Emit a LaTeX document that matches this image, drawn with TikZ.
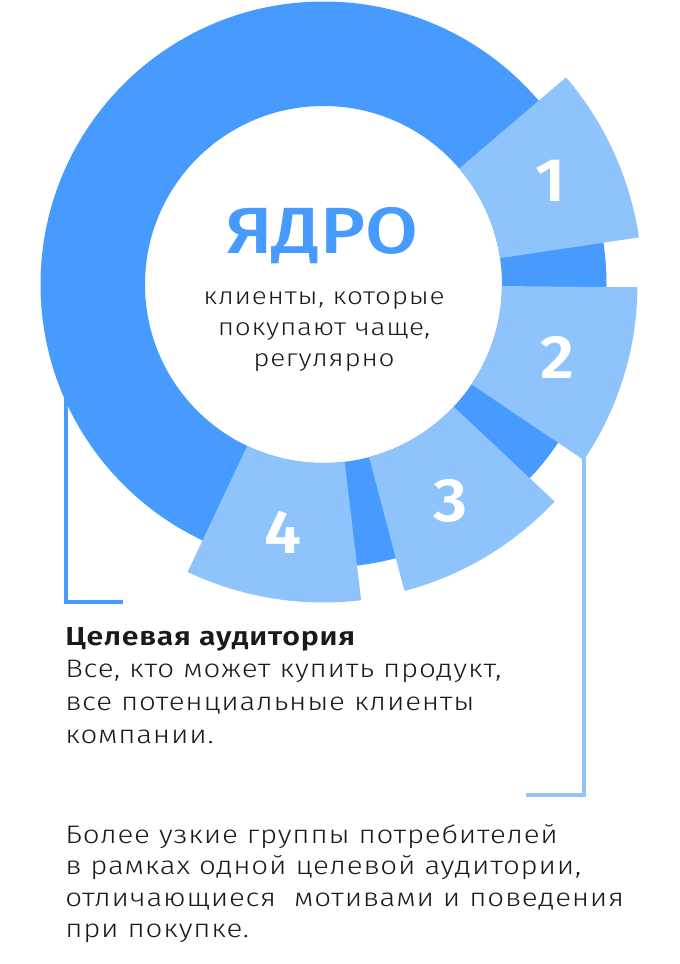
\documentclass[tikz,border=0pt]{standalone}
\usepackage{fontspec}
\setmainfont{Fira Sans Light}[BoldFont={Fira Sans SemiBold}, FakeStretch=1.165, LetterSpace=3]
\newfontfamily\semib{Fira Sans SemiBold}[FakeStretch=1.08]
\newfontfamily\medium{Fira Sans Medium}[FakeStretch=1.17]
\definecolor{dblue}{HTML}{479BFF}
\definecolor{lblue}{HTML}{8FC3FC}
\definecolor{txt}{HTML}{1A1A1A}
\begin{document}
\begin{tikzpicture}[x=0.75pt,y=-0.75pt,
  seg/.style={fill=lblue},
  num/.style={text=white, inner sep=0, font=\semib\fontsize{46}{46}\selectfont},
  line/.style={text=txt, inner sep=0, anchor=base west, font=\fontsize{19}{23}\selectfont},
  head/.style={line, font=\bfseries\fontsize{19.5}{23}\selectfont},
  sub/.style={text=txt, inner sep=0, anchor=base, font=\fontsize{18}{21}\selectfont},
  bracketline/.style={line width=3pt, line join=miter}]
\useasboundingbox (0,0) rectangle (680,964);
\coordinate (c) at (323.5,284.5);
% brackets (partly under the ring)
\coordinate (la) at (66,300);
\coordinate (lb) at (66,602);
\coordinate (lc) at (123,602);
\draw[bracketline, dblue] (la) -- (lb) -- (lc);
\coordinate (ra) at (584,440);
\coordinate (rb) at (584,795);
\coordinate (rc) at (526,795);
\draw[bracketline, lblue] (ra) -- (rb) -- (rc);
\begin{scope}[shift={(c)}, yscale=-1]
  \fill[dblue, even odd rule] (0,0) circle[radius=283] (0,0) circle[radius=178.5];
  \foreach \a/\b/\r in {8.5/40.5/319, -34/-0.5/314, -75.2/-43.2/317, -115.3/-83.2/318}{
    \fill[seg] (\a:178.5) -- (\a:\r) arc[start angle=\a, end angle=\b, radius=\r]
      -- (\b:178.5) arc[start angle=\b, end angle=\a, radius=178.5] -- cycle;
  }
  \node[num] (n1) at (24.5:250) {1};
  \node[num] (n2) at (-17.2:245) {2};
  \node[num] (n3) at (-59.5:251) {3};
  \node[num] (n4) at (-99.3:251) {4};
\end{scope}
\node[text=dblue, inner sep=0, anchor=base, font=\medium\fontsize{49}{49}\selectfont] (core) at (322.5,253) {ЯДРО};
\node[sub] (s1) at (324,304) {клиенты, которые};
\node[sub] (s2) at (324,335) {покупают чаще,};
\node[sub] (s3) at (324,366) {регулярно};
\node[head] (h) at (65,645) {Целевая аудитория};
\node[line] (b1) at (65,677) {Все, кто может купить продукт,};
\node[line] (b2) at (65,710) {все потенциальные клиенты};
\node[line] (b3) at (65,743) {компании.};
\node[line] (t1) at (65,843) {Более узкие группы потребителей};
\node[line] (t2) at (65,874.5) {в рамках одной целевой аудитории,};
\node[line] (t3) at (65,906) {отличающиеся\ \ мотивами и поведения};
\node[line] (t4) at (65,937.5) {при покупке.};
\end{tikzpicture}
\end{document}
